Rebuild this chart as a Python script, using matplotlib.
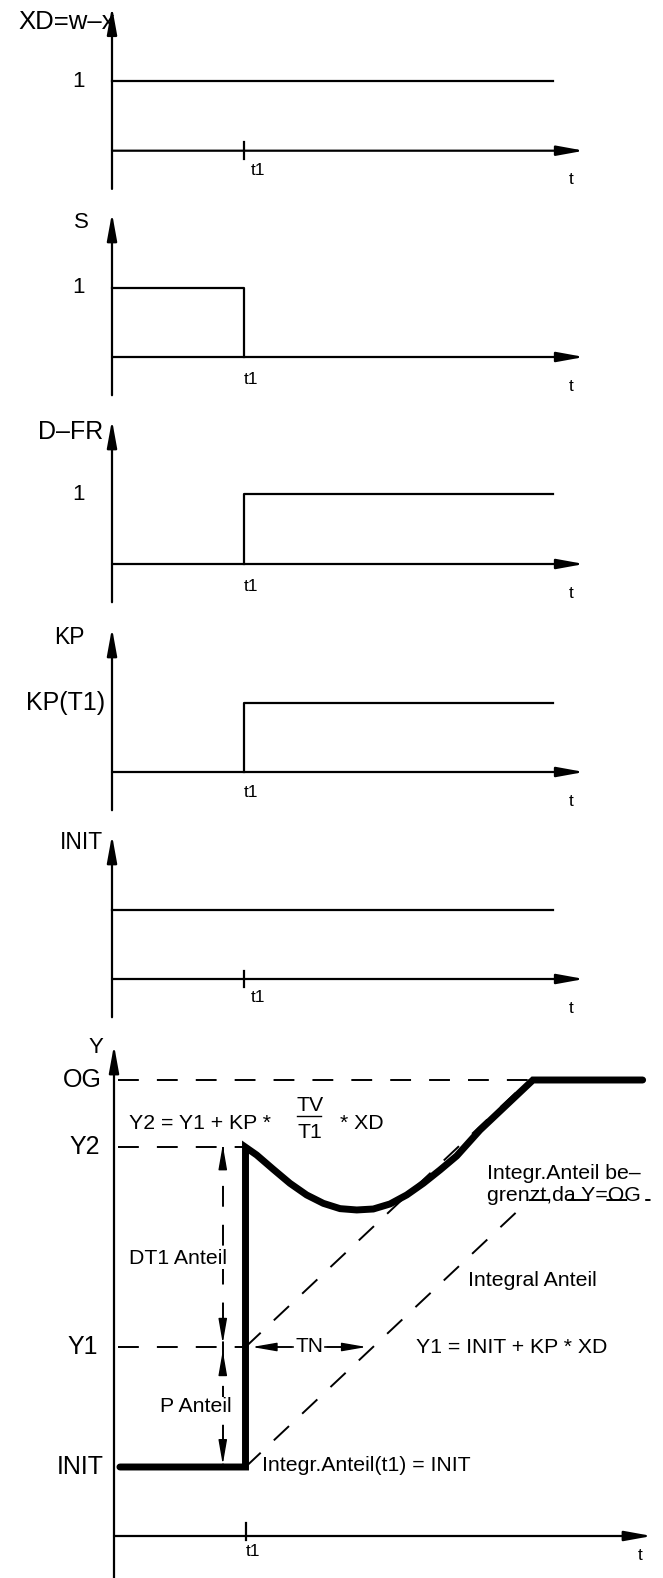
import numpy as np
import matplotlib.pyplot as plt

plt.rcParams['font.family'] = ['Liberation Sans', 'DejaVu Sans']
plt.rcParams['lines.scale_dashes'] = False

# ==========================================
# Data (time in units of t1, levels per panel)
# ==========================================

t1 = 1.0
t_end = 3.35      # end of drawn signals
t_arrow = 3.59    # tip of time axis

panel_names = ["XD=w–x", "S", "D–FR", "KP", "INIT"]
level_labels = ["1", "1", "1", "KP(T1)", ""]
panel_t = [[0, t_end], [0, t1, t1], [t1, t1, t_end], [t1, t1, t_end], [0, t_end]]
panel_v = [[1, 1], [1, 1, 0], [0, 1, 1], [0, 1, 1], [1, 1]]
panel_tick = [True, False, False, False, True]

# output panel Y
INIT = 0.575
Y1 = 1.575
Y2 = 3.24
OG = 3.80
TN = 0.97
y_start = 0.045
y_stop = 4.02
curve_t = [1.085, 1.211, 1.338, 1.465, 1.592, 1.719, 1.846, 1.972, 2.099,
           2.226, 2.352, 2.479, 2.606, 2.783, 3.186]
curve_y = [3.175, 3.056, 2.939, 2.842, 2.772, 2.728, 2.717, 2.725, 2.767,
           2.842, 2.939, 3.050, 3.167, 3.383, 3.800]

# ==========================================
# Layout
# ==========================================

W, H = 663, 1578
PX_T = 131.5
PX_TOP = 69.5
PX_Y = 120.0
top_x0 = 112
top_y0 = [150.7, 357, 564, 772, 979]
name_pos = [(0.02, 1.85), (-0.175, 1.93), (-0.07, 1.90), (-0.21, 1.93), (-0.068, 1.96)]
name_size = [18.5, 16, 18, 16.5, 16.5]
level_x = [-0.21, -0.21, -0.21, -0.053, 0]
level_size = [16, 16, 16, 18, 16]
t1_label = [(1.057, -0.28), (1.0, -0.33), (1.0, -0.33), (1.0, -0.29), (1.057, -0.26)]

LW = 1.6

fig = plt.figure(figsize=(W / 100, H / 100), dpi=100)


def make_axes(x0, y0, sx, sy):
    ax = fig.add_axes([0, 0, 1, 1])
    ax.set_xlim(-x0 / sx, (W - x0) / sx)
    ax.set_ylim(-(H - y0) / sy, y0 / sy)
    ax.set_facecolor('none')
    ax.axis('off')
    return ax


def axis_arrow(ax, start, end):
    ax.annotate('', xy=end, xytext=start,
                arrowprops=dict(arrowstyle='-|>,head_length=0.55,head_width=0.1',
                                mutation_scale=30, lw=LW, color='k',
                                shrinkA=0, shrinkB=0),
                annotation_clip=False)


def head(ax, tip, dx, dy):
    ax.annotate('', xy=tip, xytext=(tip[0] - dx, tip[1] - dy),
                arrowprops=dict(arrowstyle='-|>,head_length=0.75,head_width=0.13',
                                mutation_scale=20, lw=1.0, color='k',
                                shrinkA=0, shrinkB=0),
                annotation_clip=False)


# ==========================================
# Input panels
# ==========================================

for i in range(5):
    ax = make_axes(top_x0, top_y0[i], PX_T, PX_TOP)
    axis_arrow(ax, (0, -0.55), (0, 2.07))
    axis_arrow(ax, (0, 0), (t_arrow, 0))
    ax.plot(panel_t[i], panel_v[i], color='k', lw=LW)
    if panel_tick[i]:
        ax.plot([t1, t1], [-0.12, 0.12], color='k', lw=LW)
    ax.text(name_pos[i][0], name_pos[i][1], panel_names[i], ha='right',
            va='center', fontsize=name_size[i])
    if level_labels[i]:
        ax.text(level_x[i], 1.0, level_labels[i], ha='right', va='center',
                fontsize=level_size[i])
    ax.text(t1_label[i][0], t1_label[i][1], "t1", ha='left', va='center',
            fontsize=12.5)
    ax.text(3.49, -0.42, "t", ha='center', va='center', fontsize=12.5)

# ==========================================
# Output panel Y
# ==========================================

ax = make_axes(114, 1536, PX_T, PX_Y)
axis_arrow(ax, (0, -0.36), (0, 4.09))
axis_arrow(ax, (0, 0), (4.09, 0))
ax.plot([t1, t1], [-0.03, 0.11], color='k', lw=LW)

dash = dict(color='k', lw=1.4, dashes=(15, 13))

t_og = t1 + (OG - Y1) * TN
i_og = INIT + (t_og - t1) / TN

ax.plot([0.03, t_og], [OG, OG], **dash)
ax.plot([0.03, t1], [Y2, Y2], **dash)
ax.plot([0.03, t1], [Y1, Y1], **dash)
ax.plot([t1, t_og], [Y1, OG], **dash)
ax.plot([t1, t_og, 4.08], [INIT, i_og, i_og], **dash)

# dimension arrows
xd = 0.827
ax.plot([xd, xd], [Y2, Y1], **dash)
ax.plot([xd, xd], [Y1, INIT], **dash)
hl = 0.18
head(ax, (xd, Y2 + 0.02), 0, hl)
head(ax, (xd, Y1 + 0.03), 0, -hl)
head(ax, (xd, Y1 - 0.03), 0, hl)
head(ax, (xd, INIT + 0.02), 0, -hl)

# TN arrows
tn_mid = t1 + TN / 2
head(ax, (t1 + 0.05, Y1), -0.3, 0)
head(ax, (t1 + TN - 0.05, Y1), 0.3, 0)
ax.plot([t1 + 0.1, tn_mid - 0.12], [Y1, Y1], color='k', lw=1.2)
ax.plot([tn_mid + 0.12, t1 + TN - 0.1], [Y1, Y1], color='k', lw=1.2)
ax.text(tn_mid, Y1, "TN", ha='center', va='center', fontsize=15)

# thick output signal
yt = [y_start, t1, t1] + curve_t + [y_stop]
yv = [INIT, INIT, Y2] + curve_y + [OG]
ax.plot(yt, yv, color='k', lw=5, solid_capstyle='round', solid_joinstyle='miter',
        zorder=5)

# left labels
for lab, val, xo in [("OG", OG, -0.09), ("Y2", Y2, -0.105),
                     ("Y1", Y1, -0.12), ("INIT", INIT, -0.075)]:
    ax.text(xo, val, lab, ha='right', va='center', fontsize=18)
ax.text(-0.08, 4.07, "Y", ha='right', va='center', fontsize=16)

# annotations
fs = 15.3
white = dict(facecolor='white', edgecolor='none', pad=0.5)
ax.text(0.114, 3.44, "Y2 = Y1 + KP *", ha='left', va='center', fontsize=fs)
ax.text(1.49, 3.59, "TV", ha='center', va='center', fontsize=fs)
ax.plot([1.39, 1.575], [3.50, 3.50], color='k', lw=1.0)
ax.text(1.49, 3.36, "T1", ha='center', va='center', fontsize=fs)
ax.text(1.72, 3.44, "* XD", ha='left', va='center', fontsize=fs)
ax.text(0.114, 2.31, "DT1 Anteil", ha='left', va='center', fontsize=fs, bbox=white)
ax.text(0.35, 1.075, "P Anteil", ha='left', va='center', fontsize=fs, bbox=white)
ax.text(2.69, 2.13, "Integral Anteil", ha='left', va='center', fontsize=fs)
ax.text(2.30, 1.567, "Y1 = INIT + KP * XD", ha='left', va='center', fontsize=fs)
ax.text(1.125, 0.59, "Integr.Anteil(t1) = INIT", ha='left', va='center', fontsize=fs)
ax.text(2.84, 3.02, "Integr.Anteil be–", ha='left', va='center', fontsize=fs)
ax.text(2.84, 2.84, "grenzt,da Y=OG", ha='left', va='center', fontsize=fs)
ax.text(4.0, -0.16, "t", ha='center', va='center', fontsize=12.5)
ax.text(1.0, -0.133, "t1", ha='left', va='center', fontsize=12.5)

fig.savefig("out.png", dpi=100)
